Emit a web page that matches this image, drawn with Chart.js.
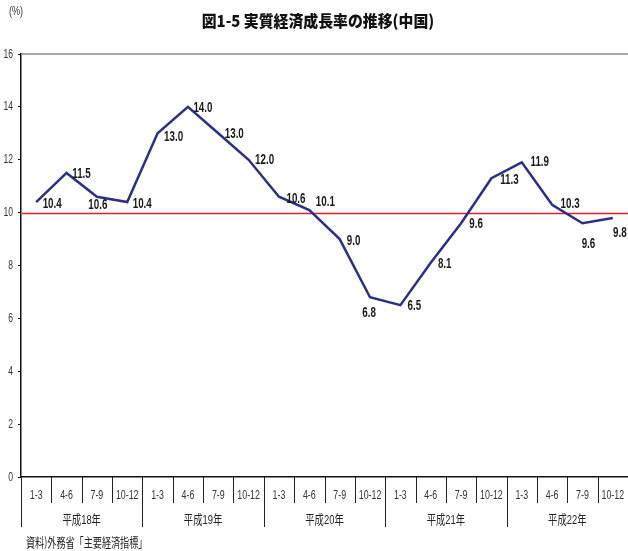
<!DOCTYPE html>
<html><head><meta charset="utf-8">
<script src="https://cdn.jsdelivr.net/npm/chart.js@4"></script>
<style>html,body{margin:0;padding:0;background:#fff}canvas{display:block}</style>
</head><body>
<canvas id="c" width="628" height="551"></canvas>
<script>
// ---- data ----
const categories = ['1-3','4-6','7-9','10-12','1-3','4-6','7-9','10-12','1-3','4-6','7-9','10-12','1-3','4-6','7-9','10-12','1-3','4-6','7-9','10-12'];
const years = ['平成18年','平成19年','平成20年','平成21年','平成22年'];
const growth = [10.4,11.5,10.6,10.4,13.0,14.0,13.0,12.0,10.6,10.1,9.0,6.8,6.5,8.1,9.6,11.3,11.9,10.3,9.6,9.8];
const referenceLevel = 10;
const titleText = '図1-5 実質経済成長率の推移(中国)';
const unitText = '(%)';
const sourceText = '資料)外務省「主要経済指標」';

// label placement (style only)
const labelOffsets = [[16,2],[15,1],[1,8],[15,2],[16,4],[15,1],[16,1],[16,0],[17,2],[16,-8],[14,2],[-1,16],[14,1],[14,1],[15,1],[18,2],[18,0],[18,-1],[6,21],[7,15]];

const LAT = "'Liberation Sans','Noto Sans',sans-serif";
const JP = "'Liberation Sans','Noto Sans CJK JP',sans-serif";

function txt(ctx, s, x, y, font, sx, align) {
  ctx.save();
  ctx.font = font;
  ctx.textAlign = align || 'center';
  ctx.textBaseline = 'middle';
  ctx.translate(x, y);
  ctx.scale(sx, 1);
  ctx.fillText(s, 0, 0);
  ctx.restore();
}

const deco = {
  id: 'deco',
  beforeDatasetsDraw(chart) {
    const {ctx, chartArea: a, scales: {y}} = chart;
    ctx.save();
    ctx.strokeStyle = '#8a8a8a'; ctx.lineWidth = 1.5;
    ctx.beginPath(); ctx.moveTo(a.left, a.top); ctx.lineTo(a.right, a.top); ctx.stroke();
    ctx.restore();
  },
  afterDatasetsDraw(chart) {
    const {ctx, chartArea: a, scales: {y}} = chart;
    const meta = chart.getDatasetMeta(0);
    ctx.save();
    const ry = Math.round(y.getPixelForValue(referenceLevel)) + 0.5;
    ctx.globalCompositeOperation = 'destination-over';
    ctx.strokeStyle = 'rgb(230,30,40)'; ctx.lineWidth = 1.4;
    ctx.beginPath(); ctx.moveTo(a.left + 1, ry); ctx.lineTo(a.right, ry); ctx.stroke();
    ctx.globalCompositeOperation = 'source-over';
    ctx.fillStyle = '#1a1a1a';
    meta.data.forEach((pt, i) => {
      const o = labelOffsets[i];
      txt(ctx, growth[i].toFixed(1), pt.x + o[0], pt.y + o[1], "bold 14px " + LAT, 0.7);
    });
    ctx.restore();
  },
  afterDraw(chart) {
    const {ctx, chartArea: a, scales: {x, y}} = chart;
    ctx.save();
    const step = x.getPixelForValue(1) - x.getPixelForValue(0);
    ctx.strokeStyle = '#222'; ctx.lineWidth = 1;
    for (let i = 0; i <= categories.length; i++) {
      const bx = Math.round(x.getPixelForValue(0) - step/2 + i*step) + 0.5;
      const yEnd = (i % 4 === 0) ? 527 : 503;
      ctx.beginPath(); ctx.moveTo(bx, a.bottom); ctx.lineTo(bx, yEnd); ctx.stroke();
    }
    ctx.fillStyle = '#333';
    // y tick labels
    y.ticks.forEach(t => {
      txt(ctx, String(t.value), 13, y.getPixelForValue(t.value), "13px " + LAT, 0.66, 'right');
    });
    // quarter labels
    categories.forEach((c, i) => {
      txt(ctx, c, x.getPixelForValue(i), 495, "13px " + LAT, 0.68);
    });
    ctx.fillStyle = '#222';
    years.forEach((yr, k) => {
      const cx = x.getPixelForValue(0) - step/2 + (k*4 + 2)*step;
      txt(ctx, yr, cx, 520, "13px " + JP, 0.72);
    });
    // title
    ctx.fillStyle = '#111';
    txt(ctx, titleText, 318, 21, "900 16px 'Noto Sans CJK JP',sans-serif", 0.93);
    ctx.fillStyle = '#333';
    txt(ctx, unitText, 16, 12, "12px " + LAT, 0.75);
    ctx.fillStyle = '#222';
    txt(ctx, sourceText, 26, 542, "13px 'Noto Sans CJK JP',sans-serif", 0.7, 'left');
    ctx.restore();
  }
};

new Chart(document.getElementById('c'), {
  type: 'line',
  data: {
    labels: categories,
    datasets: [{
      data: growth,
      borderColor: '#2b3087',
      borderWidth: 2.5,
      pointRadius: 0,
      tension: 0,
      fill: false
    }]
  },
  options: {
    responsive: false,
    devicePixelRatio: 1,
    animation: false,
    layout: {padding: {top: 54, right: 0, left: 0, bottom: 0}},
    plugins: {legend: {display: false}, tooltip: {enabled: false}, title: {display: false}},
    scales: {
      x: {
        type: 'category',
        offset: true,
        afterFit(s) { s.height = 74; s.paddingLeft = 0; s.paddingRight = 0; },
        grid: {display: false, drawTicks: false},
        border: {display: true, color: '#111', width: 1.5},
        ticks: {display: false}
      },
      y: {
        min: 0, max: 16,
        afterFit(s) { s.width = 21; },
        grid: {drawOnChartArea: false, drawTicks: true, tickLength: 3, color: '#111'},
        border: {display: true, color: '#111', width: 1.5},
        ticks: {display: false, stepSize: 2}
      }
    }
  },
  plugins: [deco]
});
</script>
</body></html>
